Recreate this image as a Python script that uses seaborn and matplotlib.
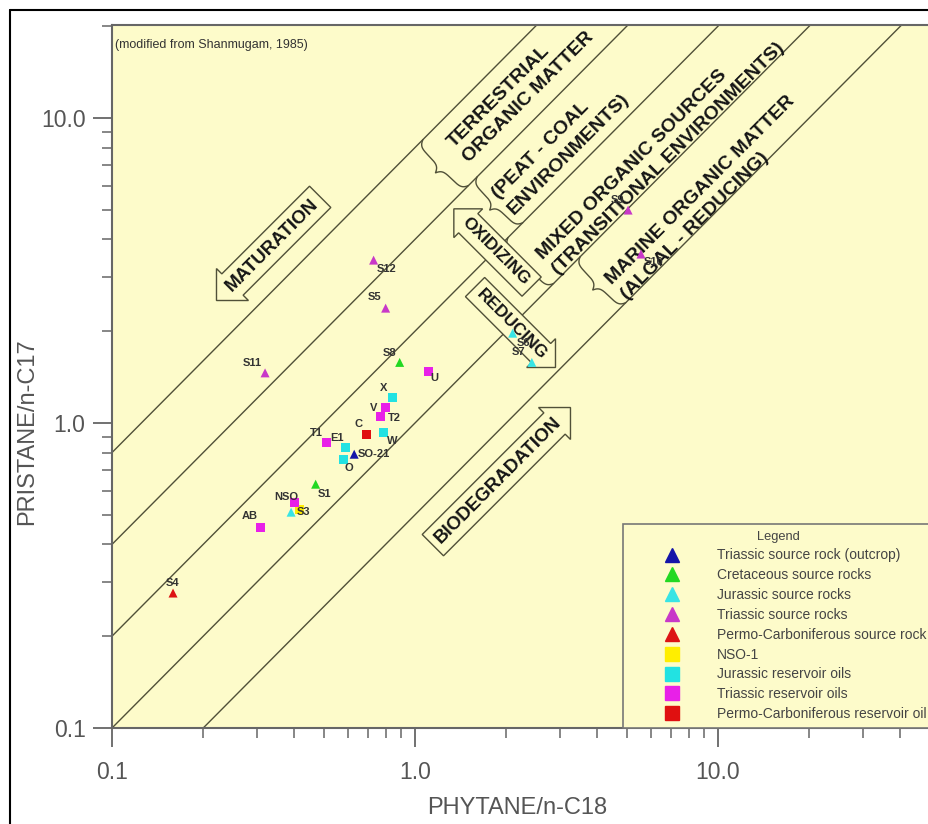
import numpy as np
import pandas as pd
import matplotlib
matplotlib.use("Agg")
import matplotlib.pyplot as plt
import seaborn as sns
from matplotlib.lines import Line2D

# ---------------- data ----------------
groups = ["Triassic source rock (outcrop)", "Cretaceous source rocks", "Jurassic source rocks",
          "Triassic source rocks", "Permo-Carboniferous source rock", "NSO-1",
          "Jurassic reservoir oils", "Triassic reservoir oils", "Permo-Carboniferous reservoir oil"]
group_colors = ["#1414a8", "#22d822", "#38e4e4", "#c838c8", "#dd1414", "#ffee00",
                "#22e2e2", "#e820e8", "#e01010"]
group_markers = ["^", "^", "^", "^", "^", "s", "s", "s", "s"]

sample_names = ["SO-21", "S8", "S1", "S3", "S6", "S7", "S12", "S5", "S11", "S9", "S10", "S4",
                "NSO", "X", "W", "E1", "O", "T1", "V", "T2", "U", "AB", "", "C"]
phytane_c18 = [0.63, 0.89, 0.47, 0.39, 2.10, 2.43, 0.73, 0.80, 0.32, 5.05, 5.57, 0.159,
               0.417, 0.84, 0.79, 0.59, 0.58, 0.51, 0.80, 0.77, 1.11, 0.31, 0.40, 0.69]
pristane_c17 = [0.79, 1.58, 0.63, 0.51, 1.97, 1.58, 3.42, 2.38, 1.46, 4.99, 3.58, 0.277,
                0.522, 1.21, 0.93, 0.83, 0.76, 0.86, 1.12, 1.05, 1.48, 0.456, 0.55, 0.92]
sample_group = [0, 1, 1, 2, 2, 2, 3, 3, 3, 3, 3, 4,
                5, 6, 6, 6, 6, 7, 7, 7, 7, 7, 7, 8]

ratio_lines = [0.5, 1, 2, 4, 8]
x_ticks = [0.1, 1.0, 10.0]
x_tick_labels = ["0.1", "1.0", "10.0"]
y_ticks = [0.1, 1.0, 10.0]
y_tick_labels = ["0.1", "1.0", "10.0"]

zone_texts = ["TERRESTRIAL\nORGANIC MATTER", "(PEAT - COAL\nENVIRONMENTS)",
              "MIXED ORGANIC SOURCES\n(TRANSITIONAL ENVIRONMENTS)",
              "MARINE ORGANIC MATTER\n(ALGAL - REDUCING)"]

# ---------------- layout / style (pixel based) ----------------
W, H = 929, 824
BG = "#fdfbca"
LINE_C = "#505038"
label_offsets_px = {"SO-21": (4, 0, "left"), "S8": (-10, 9, "center"), "S1": (9, -10, "center"),
                    "S3": (12, 0, "center"), "S6": (11, -10, "center"), "S7": (-13, 10, "center"),
                    "S12": (13, -9, "center"), "S5": (-11, 11, "center"), "S11": (-13, 10, "center"),
                    "S9": (-11, 10, "center"), "S10": (13, -8, "center"), "S4": (0, 10, "center"),
                    "NSO": (-14, 12, "center"), "X": (-8, 10, "center"), "W": (8, -8, "center"),
                    "E1": (-9, 10, "center"), "O": (6, -9, "center"), "T1": (-10, 10, "center"),
                    "V": (-12, 0, "center"), "T2": (14, -1, "center"), "U": (6, -7, "center"),
                    "AB": (-11, 11, "center"), "C": (-8, 10, "center")}

df = pd.DataFrame({"name": sample_names, "x": phytane_c18, "y": pristane_c17,
                   "group": [groups[g] for g in sample_group]})

sns.set_theme(style="ticks")
plt.rcParams["font.family"] = ["Liberation Sans", "DejaVu Sans"]

fig = plt.figure(figsize=(W / 100, H / 100), dpi=100)
ax_left, ax_right, ax_top, ax_bot = 112, 930, 25, 728
ax = fig.add_axes([ax_left / W, (H - ax_bot) / H, (ax_right - ax_left) / W, (ax_bot - ax_top) / H])
ax.set_facecolor(BG)
ax.set_xscale("log")
ax.set_yscale("log")
xmax = 10 ** (-1 + (ax_right - ax_left) / 303)
ymax = 10 ** (-1 + (ax_bot - ax_top) / 305)
ax.set_xlim(0.1, xmax)
ax.set_ylim(0.1, ymax)


def P(px, py):
    return 10 ** (-1 + (px - ax_left) / 303), 10 ** (-1 + (ax_bot - py) / 305)


# diagonal ratio lines
xx = np.logspace(-2, 3, 400)
for k in ratio_lines:
    ax.plot(xx, k * xx, color=LINE_C, lw=1.0, zorder=1)


# braces
def brace(u0, k_hi, k_lo, d=0.024, w=0.09, n=300):
    Wd = np.log10(k_hi / k_lo) / np.sqrt(2)
    t = np.linspace(0, 1, n)
    tau = np.where(t < 0.5, t * 2, (1 - t) * 2)
    h = -d * ((1 - np.exp(-tau / w)) + np.exp(-(1 - tau) / w))
    bx, by = u0, u0 + np.log10(k_hi)
    lx = bx + t * Wd / np.sqrt(2) + h / np.sqrt(2)
    ly = by - t * Wd / np.sqrt(2) + h / np.sqrt(2)
    ax.plot(10 ** lx, 10 ** ly, color=LINE_C, lw=1.0, zorder=1)


brace(0.026, 8, 4)
brace(0.205, 4, 2)
brace(0.307, 2, 1)
brace(0.545, 1, 0.5)

# zone labels (left-aligned two-line blocks, anchor at left edge / middle)
zone_pos = [(458, 152), (503, 204), (547, 264), (616, 289)]
for txt, (px, py) in zip(zone_texts, zone_pos):
    ax.text(*P(px, py), txt, rotation=45, ha="left", va="center", multialignment="left",
            rotation_mode="anchor", fontsize=14, fontweight="bold", color="#151515",
            linespacing=1.35, zorder=3)

# block arrows
arrow_kw = dict(fontweight="bold", color="#151515", ha="center", va="center",
                rotation_mode="anchor", zorder=3)
ax.text(*P(272, 245), "MATURATION", rotation=45, fontsize=13.5,
        bbox=dict(boxstyle="larrow,pad=0.35", fc=BG, ec=LINE_C, lw=1.0), **arrow_kw)
ax.text(*P(498, 480), "BIODEGRADATION", rotation=45, fontsize=13.5,
        bbox=dict(boxstyle="rarrow,pad=0.35", fc=BG, ec=LINE_C, lw=1.0), **arrow_kw)
ax.text(*P(496, 251), "OXIDIZING", rotation=-45, fontsize=12.5,
        bbox=dict(boxstyle="larrow,pad=0.35", fc=BG, ec=LINE_C, lw=1.0), **arrow_kw)
ax.text(*P(512, 324), "REDUCING", rotation=-45, fontsize=12.5,
        bbox=dict(boxstyle="rarrow,pad=0.35", fc=BG, ec=LINE_C, lw=1.0), **arrow_kw)

# source note
ax.text(*P(115, 45), "(modified from Shanmugam, 1985)", ha="left", va="center",
        fontsize=9, color="#333333", zorder=3)

# data points
palette = dict(zip(groups, group_colors))
markers = dict(zip(groups, group_markers))
sns.scatterplot(data=df, x="x", y="y", hue="group", style="group", hue_order=groups,
                style_order=groups, palette=palette, markers=markers, s=42, linewidth=0,
                legend=False, ax=ax, zorder=4)

for _, r in df.iterrows():
    if r["name"] in label_offsets_px:
        dx, dy, ha = label_offsets_px[r["name"]]
        ax.annotate(r["name"], (r["x"], r["y"]), xytext=(dx * 0.72, dy * 0.72),
                    textcoords="offset points", ha=ha, va="center", fontsize=8,
                    fontweight="bold", color="#333333", zorder=5)

# axes styling
ax.set_xticks(x_ticks)
ax.set_xticklabels(x_tick_labels)
ax.set_yticks(y_ticks)
ax.set_yticklabels(y_tick_labels)
ax.tick_params(which="major", length=14, width=1.3, color="#666666", labelsize=16.5,
               labelcolor="#555555", pad=5)
ax.tick_params(axis="x", which="major", pad=10)
ax.tick_params(which="minor", length=7, width=1.1, color="#666666")
for s in ["left", "bottom", "top"]:
    ax.spines[s].set_color("#666666")
    ax.spines[s].set_linewidth(1.5)
ax.spines["right"].set_visible(False)
ax.set_xlabel("PHYTANE/n-C18", fontsize=17, color="#555555")
ax.set_ylabel("PRISTANE/n-C17", fontsize=17, color="#555555")
ax.xaxis.set_label_coords((517 - ax_left) / (ax_right - ax_left), -(797 - ax_bot) / (ax_bot - ax_top))
ax.yaxis.set_label_coords(-(112 - 38) / (ax_right - ax_left), (ax_bot - 432) / (ax_bot - ax_top))

# legend
handles = [Line2D([], [], marker=m, color=c, linestyle="none",
                  markersize=(10.5 if m == "^" else 10))
           for m, c in zip(group_markers, group_colors)]
leg = ax.legend(handles, groups, title="Legend", loc="lower left",
                bbox_to_anchor=((623 - ax_left) / (ax_right - ax_left), 0.0), borderaxespad=0,
                frameon=True, fancybox=False, edgecolor="#777777", facecolor=BG, framealpha=1,
                fontsize=10, title_fontsize=9.3, handlelength=6.0, handletextpad=0.25,
                labelspacing=0.42, borderpad=0.5, labelcolor="#444444")
leg.get_frame().set_linewidth(1.2)
leg.get_title().set_color("#444444")
leg.set_zorder(6)

# outer frame of the figure
fig.add_artist(Line2D([10 / W, 10 / W], [0, (H - 10) / H], transform=fig.transFigure,
                      color="black", lw=1.5))
fig.add_artist(Line2D([10 / W, 1], [(H - 10) / H, (H - 10) / H], transform=fig.transFigure,
                      color="black", lw=1.5))

fig.savefig("out.png", dpi=100, facecolor="white")
